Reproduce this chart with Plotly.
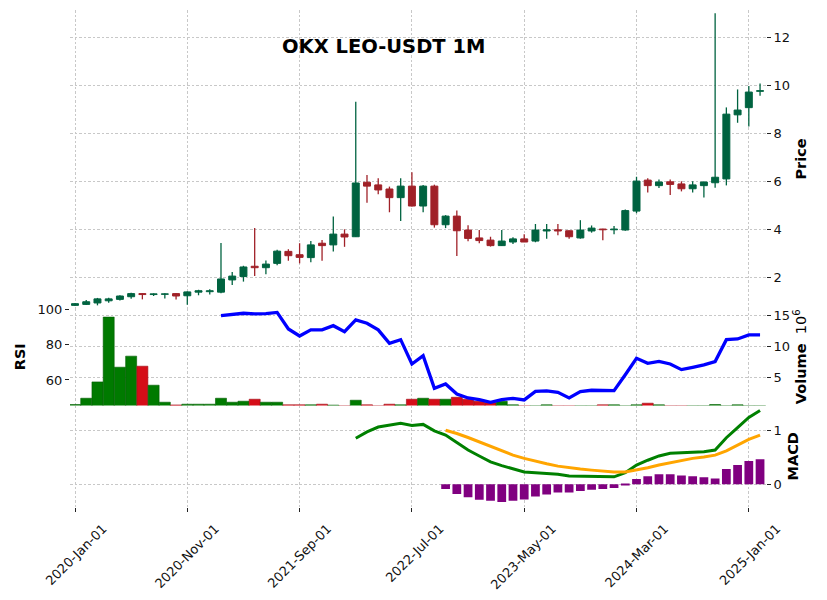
import pandas as pd
import plotly.graph_objects as go

# ---------------- data ----------------
dates = pd.date_range("2020-01-01", periods=62, freq="MS")
date_labels = [d.strftime("%Y-%b-%d") for d in dates]

opens = [0.83, 0.87, 0.93, 1.02, 1.08, 1.19, 1.32, 1.28, 1.29, 1.32,
         1.23, 1.38, 1.40, 1.38, 1.89, 2.03, 2.46, 2.40, 2.58, 3.08,
         2.94, 2.82, 3.42, 3.35, 3.80, 3.69, 5.96, 5.85, 5.68, 5.32,
         5.80, 4.97, 5.80, 4.19, 4.55, 3.97, 3.64, 3.55, 3.32, 3.47,
         3.60, 3.51, 3.93, 3.98, 3.94, 3.64, 3.93, 4.01, 3.98, 3.97,
         4.76, 6.05, 5.82, 5.98, 5.89, 5.69, 5.82, 5.94, 6.10, 8.77,
         9.07, 9.75]
highs = [0.92, 1.05, 1.14, 1.15, 1.25, 1.36, 1.33, 1.33, 1.33, 1.33,
         1.41, 1.48, 1.50, 3.43, 2.22, 2.48, 4.05, 2.70, 3.15, 3.17,
         3.42, 3.51, 3.55, 4.53, 4.00, 9.32, 6.26, 6.13, 5.78, 6.13,
         6.38, 5.85, 5.86, 4.59, 4.78, 4.17, 3.97, 3.69, 3.97, 3.67,
         3.79, 4.22, 4.22, 4.22, 3.94, 4.38, 4.16, 4.02, 4.14, 4.83,
         6.19, 6.13, 6.08, 6.08, 6.00, 6.00, 5.99, 13.00, 9.08, 9.83,
         9.97, 10.08]
lows = [0.80, 0.85, 0.83, 0.94, 1.03, 1.11, 1.08, 1.22, 1.12, 1.07,
        0.86, 1.25, 1.28, 1.33, 1.68, 1.82, 2.05, 2.13, 2.50, 2.69,
        2.58, 2.63, 2.69, 3.07, 3.27, 3.68, 5.11, 5.46, 4.71, 4.35,
        4.95, 4.71, 4.07, 4.05, 2.89, 3.50, 3.42, 3.28, 3.30, 3.39,
        3.47, 3.46, 3.61, 3.75, 3.61, 3.61, 3.86, 3.54, 3.79, 3.94,
        4.67, 5.53, 5.72, 5.43, 5.58, 5.53, 5.33, 5.73, 5.83, 8.44,
        8.28, 9.57]
closes = [0.90, 0.98, 1.10, 1.10, 1.22, 1.32, 1.28, 1.31, 1.31, 1.22,
          1.39, 1.44, 1.44, 1.93, 2.05, 2.43, 2.40, 2.55, 3.09, 2.90,
          2.83, 3.35, 3.32, 3.80, 3.68, 5.93, 5.80, 5.64, 5.32, 5.80,
          4.97, 5.80, 4.19, 4.55, 3.94, 3.62, 3.53, 3.32, 3.51, 3.60,
          3.47, 3.97, 3.98, 3.93, 3.69, 3.97, 4.05, 3.98, 4.01, 4.78,
          6.01, 5.82, 5.97, 5.87, 5.69, 5.85, 5.97, 6.17, 8.80, 8.97,
          9.72, 9.78]
# volume in units of 10^6
volume_m = [0.60, 1.61, 4.24, 14.68, 6.61, 8.39, 6.77, 3.71, 0.97, 0.53,
            0.65, 0.65, 0.65, 1.61, 0.97, 1.13, 1.45, 0.97, 0.97, 0.55,
            0.55, 0.55, 0.65, 0.50, 0.40, 1.29, 0.55, 0.40, 0.65, 0.55,
            1.45, 1.61, 1.45, 1.45, 1.77, 1.45, 1.13, 0.89, 1.13, 0.55,
            0.40, 0.40, 0.55, 0.40, 0.40, 0.40, 0.40, 0.55, 0.55, 0.40,
            0.55, 0.81, 0.55, 0.40, 0.40, 0.40, 0.40, 0.60, 0.40, 0.55,
            0.40, 0.40]
rsi = [None] * 13 + [
    96.7, 97.3, 98.1, 97.7, 97.9, 98.6, 89.1, 85.1, 88.6, 88.6,
    91.0, 87.6, 94.3, 92.4, 88.6, 80.9, 83.0, 69.1, 73.9, 55.2,
    57.7, 52.0, 49.7, 48.7, 47.2, 48.7, 49.5, 48.6, 53.5, 53.7,
    52.9, 49.7, 53.3, 54.1, 53.9, 53.9, 63.0, 72.4, 69.5, 70.6,
    69.1, 65.9, 67.2, 68.6, 70.5, 83.0, 83.4, 85.7, 85.7]
macd = [None] * 25 + [
    0.86, 0.98, 1.07, 1.10, 1.14, 1.10, 1.12, 1.00, 0.92, 0.78,
    0.64, 0.53, 0.42, 0.35, 0.285, 0.23, 0.216, 0.21, 0.19, 0.155,
    0.15, 0.15, 0.15, 0.14, 0.216, 0.36, 0.45, 0.53, 0.58, 0.59,
    0.60, 0.61, 0.64, 0.87, 1.06, 1.25, 1.38]
signal = [None] * 33 + [
    1.01, 0.95, 0.875, 0.79, 0.70, 0.62, 0.545, 0.485, 0.43, 0.385,
    0.34, 0.31, 0.285, 0.265, 0.248, 0.23, 0.23, 0.265, 0.31, 0.36,
    0.40, 0.45, 0.485, 0.51, 0.545, 0.625, 0.73, 0.84, 0.92]
hist = [None] * 33 + [
    -0.087, -0.18, -0.24, -0.29, -0.305, -0.33, -0.305, -0.285, -0.23, -0.19,
    -0.155, -0.155, -0.125, -0.10, -0.088, -0.07, -0.02, 0.10, 0.15, 0.19,
    0.19, 0.167, 0.15, 0.13, 0.11, 0.285, 0.36, 0.435, 0.47]

price_ticks = [2, 4, 6, 8, 10, 12]
volume_ticks = [5, 10, 15]
rsi_ticks = [60, 80, 100]
macd_ticks = [0, 1]

# ---------------- styling ----------------
UP, DOWN = "#006340", "#A02128"
VUP, VDOWN = "#007a00", "#d50d18"
FONT = "DejaVu Sans"
GRID = dict(showgrid=True, gridcolor="#c8c8c8", gridwidth=0.7, griddash="2.5px,2px",
            zeroline=False, automargin=False)

n = len(opens)
x = list(range(n))
up = [c >= o for o, c in zip(opens, closes)]
tick_idx = list(range(0, n, 10))
tick_txt = [date_labels[i] for i in tick_idx]

fig = go.Figure()

# wicks
for flag, col in ((True, UP), (False, DOWN)):
    wx, wy = [], []
    for i in x:
        if up[i] == flag:
            wx += [i, i, None]
            wy += [lows[i], highs[i], None]
    fig.add_trace(go.Scatter(x=wx, y=wy, mode="lines", line=dict(color=col, width=1.3),
                             xaxis="x", yaxis="y", hoverinfo="skip"))

# bodies
body_col = [UP if u else DOWN for u in up]
fig.add_trace(go.Bar(x=x, y=[abs(c - o) for o, c in zip(opens, closes)],
                     base=[min(o, c) for o, c in zip(opens, closes)],
                     width=0.62, marker=dict(color=body_col, line=dict(color=body_col, width=1)),
                     xaxis="x", yaxis="y"))

# volume
vcol = [VUP if u else VDOWN for u in up]
vline = ["#005c00" if u else "#9e0a12" for u in up]
fig.add_trace(go.Bar(x=x, y=volume_m, width=0.98,
                     marker=dict(color=vcol, line=dict(color=vline, width=0.6)),
                     xaxis="x2", yaxis="y2"))
# RSI
fig.add_trace(go.Scatter(x=x, y=rsi, mode="lines", line=dict(color="#0000ff", width=3.3),
                         xaxis="x2", yaxis="y4"))
# MACD
fig.add_trace(go.Bar(x=x, y=hist, width=0.78, marker=dict(color="#800080", line=dict(width=0)),
                     xaxis="x3", yaxis="y3"))
fig.add_trace(go.Scatter(x=x, y=macd, mode="lines", line=dict(color="#008000", width=3),
                         xaxis="x3", yaxis="y3"))
fig.add_trace(go.Scatter(x=x, y=signal, mode="lines", line=dict(color="#ffa500", width=3),
                         xaxis="x3", yaxis="y3"))

W, H = 827, 600
xdom = [70 / W, 766 / W]
xr = [-0.445, 61.53]
tickfont = dict(family=FONT, size=13, color="#111")
titlefont = dict(family=FONT, size=14.5, color="#000")

common_x = dict(domain=xdom, range=xr, tickmode="array", tickvals=tick_idx, showline=False, **GRID)
yr = dict(ticks="outside", ticklen=4, tickwidth=1, tickcolor="#222", tickfont=tickfont, showline=False)

fig.update_layout(
    width=W, height=H, margin=dict(l=0, r=0, t=0, b=0, autoexpand=False),
    paper_bgcolor="white", plot_bgcolor="white", showlegend=False, barmode="overlay",
    font=dict(family=FONT),
    xaxis=dict(anchor="y", showticklabels=False, **common_x),
    xaxis2=dict(anchor="y2", matches="x", showticklabels=False, **common_x),
    xaxis3=dict(anchor="y3", matches="x", showticklabels=True, ticktext=tick_txt,
                tickangle=-45, ticks="outside", ticklen=4, tickcolor="#222",
                tickfont=tickfont, ticklabelshift=28, ticklabelstandoff=4, **common_x),
    yaxis=dict(domain=[1 - 308 / H, 1 - 10 / H], range=[0.72, 13.14], side="right", anchor="x",
               tickvals=price_ticks, title=dict(text="<b>Price</b>", font=titlefont, standoff=6),
               **yr, **GRID),
    yaxis2=dict(domain=[1 - 405.5 / H, 1 - 308 / H], range=[0.44, 16.15], side="right", anchor="x2",
                tickvals=volume_ticks,
                title=dict(text="<b>Volume</b>  10<sup>6</sup>", font=titlefont, standoff=6),
                **yr, **GRID),
    yaxis3=dict(domain=[1 - 507 / H, 1 - 405.5 / H], range=[-0.424, 1.473], side="right", anchor="x3",
                tickvals=macd_ticks, title=dict(text="<b>MACD</b>", font=titlefont, standoff=6),
                **yr, **GRID),
    yaxis4=dict(overlaying="y2", side="left", anchor="x2", range=[45.4, 101.1],
                tickvals=rsi_ticks, showgrid=False, zeroline=False, automargin=False,
                title=dict(text="<b>RSI</b>", font=titlefont, standoff=8), **yr),
    annotations=[dict(text="<b>OKX LEO-USDT 1M</b>", x=383 / W, y=1 - 46.5 / H,
                      xref="paper", yref="paper", xanchor="center", yanchor="middle",
                      showarrow=False, font=dict(family=FONT, size=19.5, color="#000"))],
)

fig.write_html("out.html")
